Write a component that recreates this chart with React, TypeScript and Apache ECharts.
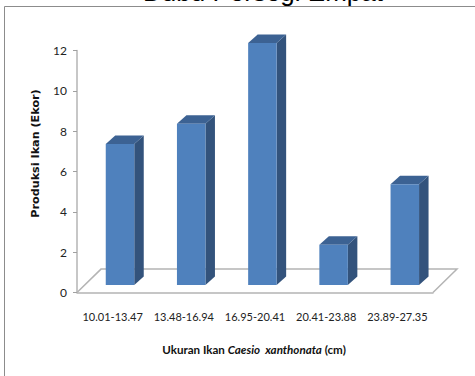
import React, { useEffect, useRef } from "react";
import * as echarts from "echarts";

const categories = ["10.01-13.47", "13.48-16.94", "16.95-20.41", "20.41-23.88", "23.89-27.35"];
const produksi = [7, 8, 12, 2, 5];
const yTicks = { min: 0, max: 12, interval: 2 };
const titleText = "Dubu Persegi Empat";
const yName = "Produksi Ikan (Ekor)";

const FONT = "Lato, 'Open Sans', sans-serif";
const GRID = { left: 77, right: 42, top: 50.5, bottom: 83.5 };
const BAR_W = 28.5;
const FRONT_SHIFT = 7.4;
const DEPTH_X = 9.5;
const DEPTH_Y = 8.5;
const FLOOR_X = 24;
const FLOOR_Y = 23.4;

export default function App() {
  const ref = useRef<HTMLDivElement>(null);
  useEffect(() => {
    const chart = echarts.init(ref.current!, null, { renderer: "svg" });
    chart.setOption({
      animation: false,
      backgroundColor: "#fff",
      grid: GRID,
      graphic: [
        { type: "line", shape: { x1: 4.5, y1: 6.5, x2: 475, y2: 6.5 }, style: { stroke: "#8c8c8c", lineWidth: 1 } },
        { type: "line", shape: { x1: 4.5, y1: 6.5, x2: 4.5, y2: 376 }, style: { stroke: "#8c8c8c", lineWidth: 1 } },
        {
          type: "text", x: 263, y: -21, z: 1,
          style: { text: titleText, fill: "#000", font: "26px 'Liberation Sans', Arial, sans-serif", textAlign: "center", textVerticalAlign: "top" },
        },
        {
          type: "text", x: 254, y: 349, z: 10,
          style: {
            text: "{r|Ukuran Ikan }{i|Caesio  xanthonata}{r| (cm)}",
            textAlign: "center", textVerticalAlign: "middle",
            rich: {
              r: { font: "bold 11.6px " + FONT, fill: "#111" },
              i: { font: "italic bold 11.6px " + FONT, fill: "#111" },
            },
          },
        },
      ],
      xAxis: {
        type: "category",
        data: categories,
        axisLine: { lineStyle: { color: "#b4b4b4", width: 1.5 } },
        axisTick: { show: false },
        axisLabel: { color: "#222", fontFamily: FONT, fontSize: 11, margin: 18, interval: 0 },
      },
      yAxis: {
        type: "value",
        ...yTicks,
        name: yName,
        nameLocation: "middle",
        nameGap: 36,
        nameTextStyle: { color: "#111", fontFamily: "'DejaVu Sans', sans-serif", fontSize: 11.2, fontWeight: "bold", padding: [0, 0, 0, 36] },
        splitLine: { show: false },
        axisLine: { show: true, lineStyle: { color: "#b4b4b4", width: 1.5 } },
        axisTick: { show: true, length: 4, lineStyle: { color: "#a0a0a0" } },
        axisLabel: { color: "#222", fontFamily: FONT, fontSize: 12, margin: 10 },
      },
      series: [
        {
          type: "custom",
          coordinateSystem: "cartesian2d",
          z: 1,
          silent: true,
          data: [[0, 0]],
          renderItem: (_p: any, api: any) => {
            const a = api.coord([0, 0]);
            const s = api.size([1, 0]);
            const x0 = a[0] - s[0] / 2;
            const x1 = x0 + s[0] * categories.length;
            const y = a[1];
            return {
              type: "polyline",
              shape: { points: [[x0, y], [x0 + FLOOR_X, y - FLOOR_Y], [x1 + FLOOR_X, y - FLOOR_Y], [x1, y]] },
              style: { stroke: "#b4b4b4", lineWidth: 1.5, fill: "none" },
            };
          },
        },
        {
          type: "custom",
          coordinateSystem: "cartesian2d",
          z: 3,
          encode: { x: 0, y: 1 },
          data: produksi.map((v, i) => [i, v]),
          renderItem: (_p: any, api: any) => {
            const top = api.coord([api.value(0), api.value(1)]);
            const base = api.coord([api.value(0), 0]);
            const l = top[0] - BAR_W / 2 + FRONT_SHIFT;
            const r = l + BAR_W;
            const t = top[1] - FRONT_SHIFT;
            const b = base[1] - FRONT_SHIFT;
            return {
              type: "group",
              children: [
                {
                  type: "polygon",
                  shape: { points: [[r, t], [r + DEPTH_X, t - DEPTH_Y], [r + DEPTH_X, b - DEPTH_Y], [r, b]] },
                  style: { fill: "#33537c" },
                },
                {
                  type: "polygon",
                  shape: { points: [[l, t], [l + DEPTH_X, t - DEPTH_Y], [r + DEPTH_X, t - DEPTH_Y], [r, t]] },
                  style: { fill: "#3c6293" },
                },
                {
                  type: "rect",
                  shape: { x: l, y: t, width: BAR_W, height: b - t },
                  style: { fill: "#4f81bd" },
                },
              ],
            };
          },
        },
      ],
    });
    return () => chart.dispose();
  }, []);
  return (
    <div
      ref={ref}
      style={{ position: "fixed", left: 0, top: 0, width: 475, height: 376 }}
    />
  );
}
